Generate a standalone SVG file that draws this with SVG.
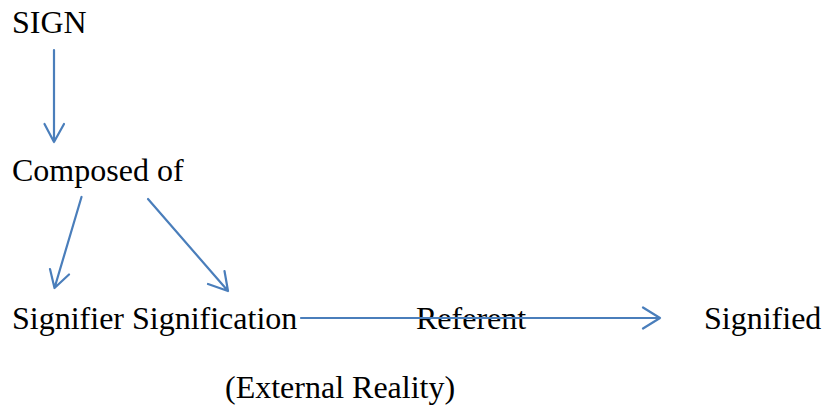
<svg xmlns="http://www.w3.org/2000/svg" width="826" height="411" viewBox="0 0 826 411">
<style>
text{font-family:"Liberation Serif","Times New Roman",serif;font-size:32px;fill:#000}
.c{stroke:#4a7ebb;stroke-width:2.2;fill:none;stroke-linecap:round;stroke-linejoin:round}
</style>
<rect width="826" height="411" fill="#fff"/>
<g id="sign"><text x="12" y="33">SIGN</text></g>
<g id="composed"><text x="12" y="181">Composed of</text></g>
<g id="signifier-signification"><text x="12" y="329">Signifier Signification</text></g>
<g id="referent"><text x="416" y="329">Referent</text></g>
<g id="signified"><text x="704" y="329">Signified</text></g>
<g id="external"><text x="225" y="398">(External Reality)</text></g>
<g id="connectors">
<path class="c" d="M54,50 V142 M44.5,124 L54,142 L64,124"/>
<path class="c" d="M81.5,197 L54.5,288 M50,269 L54.5,288 L69,274.5"/>
<path class="c" d="M148,199 L228,291 M208,284 L228,291 L224.5,271"/>
<path class="c" d="M301,318 H660 M643,307.5 L660,318 L643,328.5"/>
</g>
</svg>
